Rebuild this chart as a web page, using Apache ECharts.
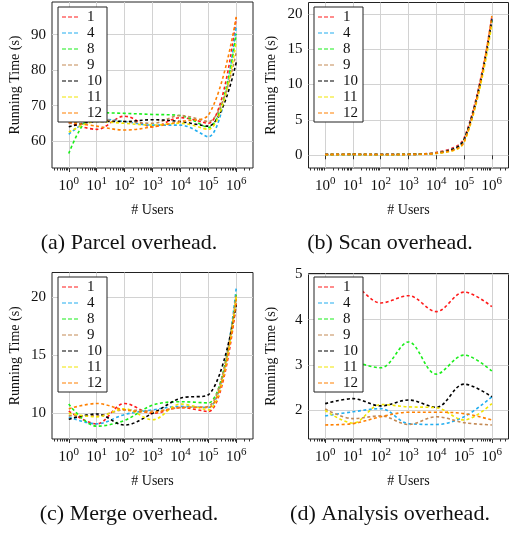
<!DOCTYPE html>
<html>
<head>
<meta charset="utf-8">
<script src="https://cdn.jsdelivr.net/npm/echarts@6/dist/echarts.min.js"></script>
<style>
  html, body { margin: 0; padding: 0; background: #fff; }
  #chart { width: 509px; height: 533px; }
</style>
</head>
<body>
<div id="chart"></div>
<script>
// x values (number of users), plotted on a log10 scale
const users = [1, 10, 100, 1e3, 1e4, 1e5, 1e6];
const seriesNames = ['1', '4', '8', '9', '10', '11', '12'];
const colors = ['#ff1a1a', '#22aef0', '#1aee1a', '#c48a55', '#000000', '#f2e600', '#ff8000'];

// running time (s), one row per series in seriesNames order
const parcelTime = [
  [65.2, 63.3, 67.0, 64.0, 66.6, 65.0, 94.8],
  [61.9, 66.3, 65.5, 64.5, 64.5, 61.2, 92.5],
  [56.5, 68.0, 67.8, 67.5, 67.2, 63.8, 90.2],
  [65.0, 66.0, 65.5, 65.0, 67.2, 65.5, 85.0],
  [64.0, 65.5, 65.5, 66.0, 65.5, 64.2, 82.2],
  [62.5, 65.5, 65.0, 64.5, 65.0, 63.3, 88.0],
  [65.3, 64.2, 63.1, 64.0, 65.5, 67.3, 95.0]
];
const scanTime = [
  [0.10, 0.15, 0.10, 0.15, 0.40, 2.4, 19.6],
  [0.10, 0.12, 0.10, 0.12, 0.35, 2.2, 19.3],
  [0.10, 0.12, 0.10, 0.15, 0.30, 2.1, 19.0],
  [0.12, 0.15, 0.12, 0.15, 0.35, 2.0, 18.8],
  [0.10, 0.12, 0.10, 0.12, 0.30, 2.2, 19.2],
  [0.08, 0.10, 0.08, 0.10, 0.25, 1.8, 18.5],
  [0.10, 0.12, 0.10, 0.12, 0.30, 1.9, 19.7]
];
const mergeTime = [
  [10.2, 9.1, 10.85, 10.0, 10.5, 10.15, 19.5],
  [9.7, 9.1, 9.9, 10.3, 10.6, 10.5, 20.8],
  [10.8, 8.9, 9.4, 10.7, 11.0, 10.9, 20.2],
  [9.8, 9.8, 10.3, 10.2, 10.5, 10.6, 20.3],
  [9.5, 9.95, 9.0, 10.0, 11.3, 11.6, 19.3],
  [10.0, 9.7, 10.4, 9.45, 10.8, 10.3, 20.0],
  [10.4, 10.85, 10.3, 10.1, 10.5, 10.5, 19.8]
];
const analysisTime = [
  [4.60, 4.72, 4.37, 4.53, 4.18, 4.61, 4.29],
  [1.88, 1.97, 2.04, 1.71, 1.69, 1.86, 2.30],
  [3.15, 3.07, 2.94, 3.51, 2.80, 3.22, 2.87],
  [2.03, 1.82, 1.88, 1.69, 1.86, 1.73, 1.68],
  [2.15, 2.26, 2.10, 2.23, 2.07, 2.58, 2.30],
  [2.00, 1.72, 2.13, 2.08, 2.06, 1.79, 2.15],
  [1.68, 1.71, 1.86, 1.96, 1.96, 1.93, 1.79]
];

const xExps = [0, 1, 2, 3, 4, 5, 6];
const yTicksA = [60, 70, 80, 90];
const yTicksB = [0, 5, 10, 15, 20];
const yTicksC = [10, 15, 20];
const yTicksD = [2, 3, 4, 5];
const captions = ['(a) Parcel overhead.', '(b) Scan overhead.', '(c) Merge overhead.', '(d) Analysis overhead.'];

const FONT = '"Liberation Serif", "DejaVu Serif", serif';
const panels = [
  {data: parcelTime, yMin: 52.4, yMax: 99.2, yTicks: yTicksA},
  {data: scanTime, yMin: -1.8, yMax: 21.6, yTicks: yTicksB},
  {data: mergeTime, yMin: 7.8, yMax: 22.1, yTicks: yTicksC},
  {data: analysisTime, yMin: 1.37, yMax: 5.02, yTicks: yTicksD}
];
const grids = [
  {left: 52, top: 2, width: 201, height: 166},
  {left: 308.5, top: 2.5, width: 200, height: 165.5},
  {left: 52, top: 272.5, width: 201, height: 166.5},
  {left: 308.5, top: 273.5, width: 200, height: 165.5}
];
const legendPos = [
  {left: 58, top: 7}, {left: 314, top: 7},
  {left: 58, top: 277}, {left: 314, top: 277}
];
const captionPos = [[129, 243], [390, 243], [129, 514], [390, 514]];

// minor log ticks 2..9 in each decade
const minorTicks = [];
for (let n = -1; n <= 6; n++) {
  for (let k = 2; k <= 9; k++) {
    const v = n + Math.log10(k);
    if (v > -0.6 && v < 6.6) minorTicks.push(v);
  }
}

// dashed line sample for the legend
const dashIcon = 'path://M0,0h4v1h-4zM6,0h4v1h-4zM12,0h4v1h-4z';

const gridLine = {lineStyle: {color: '#d2d2d2', width: 1}};
const xAxes = [], yAxes = [], series = [];

panels.forEach((p, gi) => {
  xAxes.push({
    type: 'value', gridIndex: gi, min: -0.6, max: 6.6,
    name: '# Users', nameLocation: 'middle', nameGap: 35,
    nameTextStyle: {fontFamily: FONT, fontSize: 14, color: '#111'},
    axisLine: {show: false},
    axisTick: {show: true, customValues: xExps, length: 4, lineStyle: {color: '#333'}},
    axisLabel: {
      customValues: xExps, margin: 8,
      formatter: v => '{b|10}{s|' + v + '}',
      rich: {
        b: {fontFamily: FONT, fontSize: 15, color: '#111'},
        s: {fontFamily: FONT, fontSize: 11, color: '#111', padding: [0, 0, 9, 0]}
      }
    },
    splitLine: Object.assign({show: true}, gridLine)
  });
  xAxes.push({
    type: 'value', gridIndex: gi, min: -0.6, max: 6.6, position: 'bottom',
    axisLine: {show: false}, axisLabel: {show: false}, splitLine: {show: false},
    axisTick: {show: true, customValues: minorTicks, length: 2.5, lineStyle: {color: '#333'}}
  });
  yAxes.push({
    type: 'value', gridIndex: gi, min: p.yMin, max: p.yMax,
    name: 'Running Time (s)', nameLocation: 'middle', nameGap: 30,
    nameTextStyle: {fontFamily: FONT, fontSize: 14, color: '#111'},
    axisLine: {show: false},
    axisTick: {show: false, customValues: p.yTicks},
    axisLabel: {customValues: p.yTicks, fontFamily: FONT, fontSize: 15, color: '#111', margin: 6},
    splitLine: Object.assign({show: true}, gridLine)
  });
  p.data.forEach((row, si) => {
    series.push({
      type: 'line', name: seriesNames[si],
      xAxisIndex: gi * 2, yAxisIndex: gi,
      data: row.map((v, i) => [Math.log10(users[i]), v]),
      smooth: 0.35, symbol: 'none', silent: true,
      lineStyle: {color: colors[si], width: 1.6, type: [3, 2.5]},
      itemStyle: {color: colors[si]},
      animation: false
    });
  });
});

const chart = echarts.init(document.getElementById('chart'), null, {renderer: 'canvas'});
chart.setOption({
  animation: false,
  color: colors,
  grid: grids.map(g => Object.assign({show: true, borderColor: '#222', borderWidth: 1, backgroundColor: 'transparent'}, g)),
  xAxis: xAxes,
  yAxis: yAxes,
  legend: legendPos.map(pos => ({
    data: seriesNames.map(n => ({name: n, icon: dashIcon})),
    orient: 'vertical', left: pos.left, top: pos.top,
    backgroundColor: '#fff', borderColor: '#222', borderWidth: 1,
    padding: [2, 5, 1, 4], itemGap: 0, itemWidth: 16, itemHeight: 1.8,
    selectedMode: false,
    textStyle: {fontFamily: FONT, fontSize: 15, lineHeight: 16, color: '#111', padding: [0, 0, 0, 4]}
  })),
  graphic: captions.map((t, i) => ({
    type: 'text', x: captionPos[i][0], y: captionPos[i][1],
    style: {text: t, font: '22px ' + FONT, fill: '#111', align: 'center', verticalAlign: 'middle'}
  })),
  series: series
});
</script>
</body>
</html>
